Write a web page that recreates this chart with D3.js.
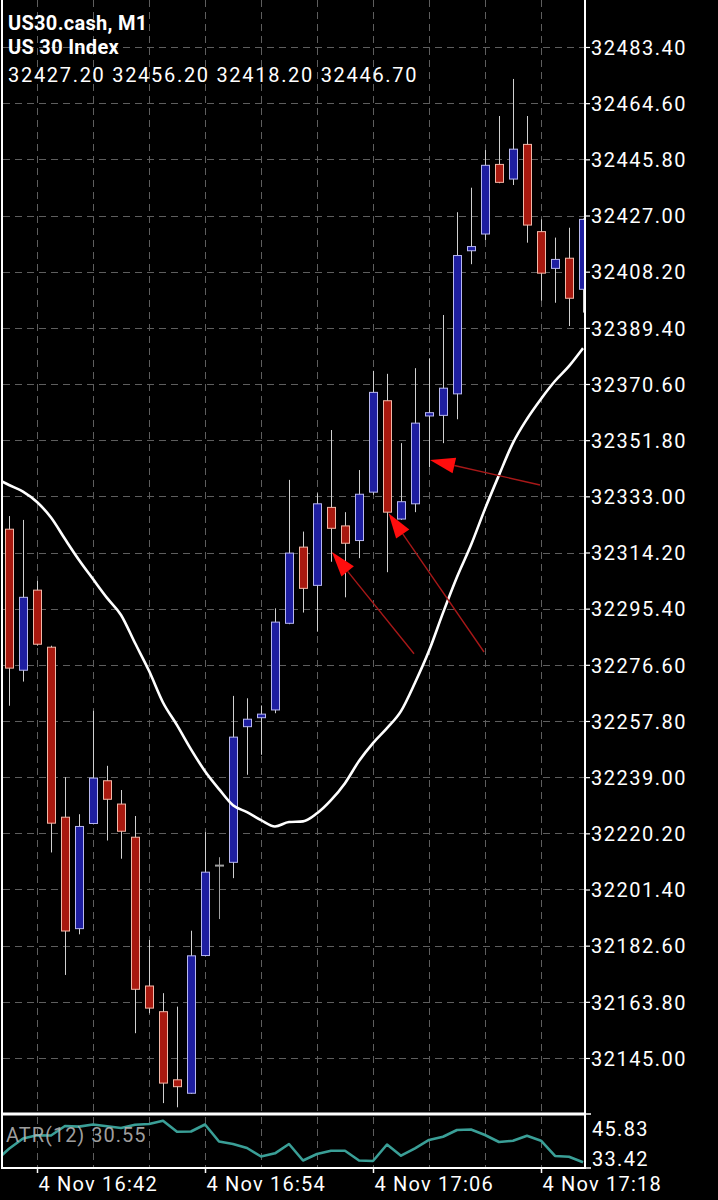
<!DOCTYPE html>
<html><head><meta charset="utf-8">
<script src="https://cdn.jsdelivr.net/npm/d3@7"></script>
<style>html,body{margin:0;padding:0;background:#000;} svg{display:block;font-family:Roboto, sans-serif;}</style>
</head><body><svg id="c" width="718" height="1200"></svg>
<script>
// ---- data ----
const categories = ["16:40","16:41","16:42","16:43","16:44","16:45","16:46","16:47","16:48","16:49",
  "16:50","16:51","16:52","16:53","16:54","16:55","16:56","16:57","16:58","16:59",
  "17:00","17:01","17:02","17:03","17:04","17:05","17:06","17:07","17:08","17:09",
  "17:10","17:11","17:12","17:13","17:14","17:15","17:16","17:17","17:18","17:19","17:20","17:21"];
const opens  = [32322.0,32274.8,32301.6,32282.5,32225.6,32188.3,32223.5,32237.8,32230.0,32218.9,
  32169.1,32160.5,32137.7,32133.2,32179.3,32209.4,32210.5,32255.9,32258.9,32261.5,
  32290.5,32316.0,32303.2,32329.3,32323.1,32318.2,32334.4,32365.0,32325.4,32330.5,
  32359.9,32360.1,32367.3,32415.2,32420.8,32444.1,32439.2,32450.8,32421.6,32409.3,32412.7,32402.3];
const highs  = [32326.4,32325.1,32304.7,32283.0,32239.0,32226.6,32261.2,32242.8,32234.7,32226.0,
  32184.5,32166.7,32162.2,32187.6,32220.6,32212.2,32266.2,32265.4,32263.0,32295.5,
  32338.5,32321.2,32334.0,32355.2,32327.7,32341.8,32375.0,32374.0,32350.8,32375.9,
  32379.2,32393.7,32428.1,32436.3,32448.9,32460.3,32472.7,32460.3,32425.7,32419.6,32422.9,32426.0];
const lows   = [32262.9,32271.0,32283.0,32213.8,32172.8,32186.4,32223.2,32217.8,32211.7,32153.3,
  32160.0,32129.9,32128.5,32133.0,32179.0,32191.5,32205.2,32239.8,32246.5,32260.4,
  32290.2,32294.1,32287.7,32311.1,32299.2,32312.3,32333.5,32307.6,32325.1,32327.7,
  32342.7,32350.8,32358.8,32410.7,32418.8,32437.8,32437.2,32417.9,32398.5,32397.8,32390.0,32394.5];
const closes = [32275.5,32299.2,32283.5,32223.6,32187.5,32222.5,32238.7,32231.6,32220.9,32168.0,
  32161.7,32136.6,32135.4,32179.2,32207.2,32209.4,32252.4,32258.4,32260.1,32290.9,
  32314.0,32302.2,32330.5,32322.3,32317.3,32333.7,32367.8,32327.7,32331.2,32357.5,
  32361.0,32369.2,32413.6,32416.6,32443.8,32438.1,32449.2,32423.8,32407.7,32412.3,32399.3,32425.7];
// moving average, first value belongs to the bar before 16:40 (index -1)
const maValues = [32339.2,32336.8,32334.6,32331.1,32325.9,32318.7,32311.7,32305.3,32299.0,32293.3,32283.9,
  32274.6,32264.0,32256.4,32248.3,32241.0,32235.0,32229.6,32227.3,32224.6,32222.5,
  32224.0,32224.2,32226.9,32231.3,32237.0,32244.4,32250.4,32255.4,32261.1,32270.6,
  32281.3,32294.0,32306.0,32316.7,32328.8,32340.1,32350.9,32358.9,32365.6,32371.6,32376.6,32382.6];
// ATR(12), first value belongs to index -1
const atrValues = [31.85,37.27,41.49,42.85,42.73,46.66,46.41,47.28,46.57,45.83,47.15,47.48,48.85,44.30,44.38,47.28,
  40.25,39.21,37.56,34.04,35.36,39.21,32.39,35.07,36.44,36.44,32.39,32.18,39.00,34.37,37.43,
  40.87,42.23,45.00,45.21,42.93,40.04,40.54,42.65,40.58,34.25,33.96,31.64];
const yTicks = [32483.40,32464.60,32445.80,32427.00,32408.20,32389.40,32370.60,32351.80,32333.00,32314.20,
  32295.40,32276.60,32257.80,32239.00,32220.20,32201.40,32182.60,32163.80,32145.00];
const atrTicks = [45.83, 33.42];
const xTickCats = ["16:42","16:54","17:06","17:18"];
const xTickLabels = ["4 Nov 16:42","4 Nov 16:54","4 Nov 17:06","4 Nov 17:18"];
const headerTitle = "US30.cash, M1";
const headerName = "US 30 Index";
const headerOHLC = [32427.20, 32456.20, 32418.20, 32446.70];
const atrLabel = "ATR(12) 30.55";
// arrow annotations (bar index, price)
const arrowFromIdx = [28.93, 33.93, 37.93];
const arrowFromPrice = [32280.3, 32280.9, 32336.8];
const arrowToIdx = [23.07, 27.11, 30.07];
const arrowToPrice = [32314.4, 32327.3, 32345.2];

// ---- layout ----
const svg = d3.select("#c");
const L = 2, R = 585, T = 0, B = 1113, AT = 1115, AB = 1168;
const x = d3.scaleLinear().domain([0, 41]).range([9, 583]);
const y = d3.scaleLinear().domain([32145.0, 32483.4]).range([1058, 47]);
const ya = d3.scaleLinear().domain([33.42, 45.83]).range([1158, 1128]);

svg.append("rect").attr("width",718).attr("height",1200).attr("fill","#000");
const defs = svg.append("defs");
defs.append("clipPath").attr("id","cm").append("rect").attr("x",L+1).attr("y",T).attr("width",R-L-2).attr("height",B-T-1);
defs.append("clipPath").attr("id","ca").append("rect").attr("x",L+1).attr("y",AT+1).attr("width",R-L-2).attr("height",AB-AT-2);

const gridColor = "#5e5e5e", dash = "7,5";
const gridIdx = d3.range(2, 42, 4);
const grid = svg.append("g");
gridIdx.forEach(i => {
  grid.append("line").attr("x1",x(i)+0.5).attr("x2",x(i)+0.5).attr("y1",T).attr("y2",B)
    .attr("stroke",gridColor).attr("stroke-dasharray",dash);
  grid.append("line").attr("x1",x(i)+0.5).attr("x2",x(i)+0.5).attr("y1",AT+2).attr("y2",AB)
    .attr("stroke",gridColor).attr("stroke-dasharray",dash);
});
yTicks.forEach(v => {
  grid.append("line").attr("x1",L+1).attr("x2",R).attr("y1",Math.round(y(v))+0.5).attr("y2",Math.round(y(v))+0.5)
    .attr("stroke",gridColor).attr("stroke-dasharray",dash);
});

// header text
const hdr = svg.append("g").attr("fill","#fff");
hdr.append("text").attr("x",8).attr("y",30).attr("font-size",20).attr("font-weight","bold").attr("letter-spacing","0.3px").text(headerTitle);
hdr.append("text").attr("x",8).attr("y",54).attr("font-size",20).attr("font-weight","bold").attr("letter-spacing","0.3px").text(headerName);
hdr.append("text").attr("x",8).attr("y",82).attr("font-size",20).attr("letter-spacing","1.7px")
  .text(headerOHLC.map(d=>d.toFixed(2)).join(" "));

// candles
const main = svg.append("g").attr("clip-path","url(#cm)");
const bars = d3.range(categories.length);
main.selectAll("line.wick").data(bars).join("line").attr("class","wick")
  .attr("x1",i=>x(i)+0.5).attr("x2",i=>x(i)+0.5)
  .attr("y1",i=>y(highs[i])).attr("y2",i=>y(lows[i]))
  .attr("stroke",i=>opens[i]===closes[i]?"#a0a0a0":"#d0d0d0").attr("stroke-width",1);
main.selectAll("rect.body").data(bars.filter(i=>opens[i]!==closes[i])).join("rect").attr("class","body")
  .attr("x",i=>x(i)-3.5)
  .attr("y",i=>y(Math.max(opens[i],closes[i])))
  .attr("width",8)
  .attr("height",i=>Math.max(1,Math.abs(y(opens[i])-y(closes[i]))))
  .attr("fill",i=>closes[i]>opens[i]?"#1e1ea0":"#a8190f")
  .attr("stroke",i=>closes[i]>opens[i]?"#b8b8f0":"#f2b8a8").attr("stroke-width",1);
main.selectAll("line.doji").data(bars.filter(i=>opens[i]===closes[i])).join("line").attr("class","doji")
  .attr("x1",i=>x(i)-4).attr("x2",i=>x(i)+5)
  .attr("y1",i=>y(opens[i])).attr("y2",i=>y(opens[i]))
  .attr("stroke","#a0a0a0").attr("stroke-width",2);

// moving average
const maLine = d3.line().x((d,k)=>x(k-1)).y(d=>y(d)).curve(d3.curveMonotoneX);
main.append("path").attr("d",maLine(maValues)).attr("fill","none").attr("stroke","#fff").attr("stroke-width",2.6);

// arrows
arrowToIdx.forEach((ti,k) => {
  const x1 = x(arrowFromIdx[k]), y1 = y(arrowFromPrice[k]);
  const x2 = x(ti), y2 = y(arrowToPrice[k]);
  const dx = x1-x2, dy = y1-y2, len = Math.hypot(dx,dy);
  const ux = dx/len, uy = dy/len;
  const hl = 25, hw = 8;
  const bx = x2+ux*hl, by = y2+uy*hl;
  main.append("line").attr("x1",x1).attr("y1",y1).attr("x2",bx).attr("y2",by)
    .attr("stroke","#a81818").attr("stroke-width",1.4);
  main.append("path").attr("d",`M${x2},${y2}L${bx-uy*hw},${by+ux*hw}L${bx+uy*hw},${by-ux*hw}Z`)
    .attr("fill","#ff0d0d");
});

// ATR panel
const atrG = svg.append("g").attr("clip-path","url(#ca)");
const atrLine = d3.line().x((d,k)=>x(k-1)).y(d=>ya(d));
atrG.append("path").attr("d",atrLine(atrValues)).attr("fill","none").attr("stroke","#3a9f97").attr("stroke-width",2.6).attr("stroke-linejoin","round");
svg.append("text").attr("x",6).attr("y",1142).attr("font-size",20).attr("letter-spacing","1px")
  .attr("fill","#b4b4b4").attr("fill-opacity",0.9).text(atrLabel);

// borders
const bc = "#fff";
svg.append("line").attr("x1",L).attr("x2",L).attr("y1",0).attr("y2",AB+1).attr("stroke",bc).attr("stroke-width",2);
svg.append("line").attr("x1",R).attr("x2",R).attr("y1",0).attr("y2",AB+1).attr("stroke",bc).attr("stroke-width",2);
svg.append("line").attr("x1",L-1).attr("x2",R+1).attr("y1",B+1).attr("y2",B+1).attr("stroke",bc).attr("stroke-width",3);
svg.append("line").attr("x1",L-1).attr("x2",R+1).attr("y1",AB).attr("y2",AB).attr("stroke",bc).attr("stroke-width",2);
// border ticks on ATR panel
[B+1, AB].forEach(v => svg.append("line").attr("x1",R).attr("x2",R+6).attr("y1",v).attr("y2",v).attr("stroke",bc).attr("stroke-width",1.5));

// right price axis
const yAxis = svg.append("g").attr("transform",`translate(${R},0)`)
  .call(d3.axisRight(y).tickValues(yTicks).tickFormat(d=>d.toFixed(2)).tickSize(5).tickPadding(1));
yAxis.select(".domain").remove();
yAxis.selectAll(".tick line").attr("stroke","#fff").attr("stroke-width",1.2);
yAxis.selectAll(".tick text").attr("fill","#fff").attr("font-size",20).attr("font-family","Roboto")
  .attr("letter-spacing","1.5px").attr("dy","0.36em");

// ATR axis
const aAxis = svg.append("g").attr("transform",`translate(${R},0)`)
  .call(d3.axisRight(ya).tickValues(atrTicks).tickFormat(d=>d.toFixed(2)).tickSize(0).tickPadding(7));
aAxis.select(".domain").remove();
aAxis.selectAll(".tick text").attr("fill","#fff").attr("font-size",20).attr("font-family","Roboto")
  .attr("letter-spacing","1.3px").attr("dy","0.36em");

// time axis
const xAxis = svg.append("g").attr("transform",`translate(0,${AB})`)
  .call(d3.axisBottom(x).tickValues(xTickCats.map(c=>categories.indexOf(c)))
    .tickFormat((d,k)=>xTickLabels[k]).tickSize(5).tickPadding(4));
xAxis.select(".domain").remove();
xAxis.selectAll(".tick line").attr("stroke","#fff").attr("stroke-width",1.5);
xAxis.selectAll(".tick text").attr("fill","#fff").attr("font-size",20).attr("font-family","Roboto")
  .attr("letter-spacing","1.2px").attr("text-anchor","start").attr("x",1);
</script></body></html>
